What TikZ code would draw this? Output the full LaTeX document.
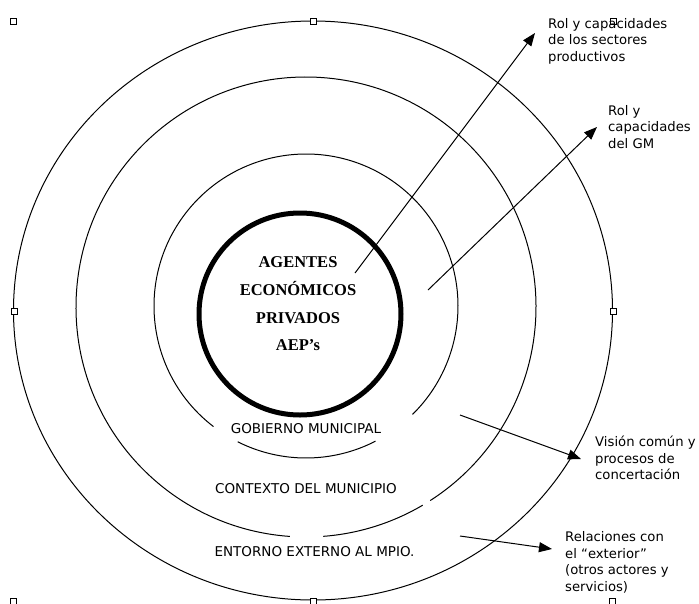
\documentclass[tikz,border=0pt]{standalone}
\usepackage{fontspec}
\setmainfont{Liberation Serif}
\newfontfamily\lblfont{DejaVu Sans}
\usetikzlibrary{arrows.meta}
\begin{document}
\begin{tikzpicture}[x=1pt,y=-1pt,
  ring/.style={line width=1pt},
  handle/.style={draw,fill=white,line width=0.9pt,minimum size=6pt,inner sep=0pt},
  lbl/.style={font=\lblfont\fontsize{13.2}{16.4}\selectfont,align=left,anchor=north west,inner sep=0pt},
  band/.style={font=\lblfont\fontsize{13.5}{16}\selectfont,inner sep=0pt},
  arr/.style={line width=1pt,-{Triangle[length=13pt,width=10pt]}},
  core/.style={font=\bfseries\fontsize{16.5}{27.7}\selectfont,align=center,inner sep=0pt}]
\useasboundingbox (0,0) rectangle (699,603);
% outer ring with selection handles
\draw[ring] (313,310.5) ellipse [x radius=299.5, y radius=289.5];
% ring 2 (context)
\draw[ring] ([shift={(306,307)}]94:230) arc[start angle=94,end angle=417.3,radius=230];
\draw[ring] ([shift={(306,307)}]59.5:230) arc[start angle=59.5,end angle=85.7,radius=230];
% ring 3 (municipal government)
\draw[ring] ([shift={(306,306)}]127.5:152) arc[start angle=127.5,end angle=405.5,radius=152];
\draw[ring] ([shift={(306,306)}]62.8:152) arc[start angle=62.8,end angle=116.7,radius=152];
% core circle
\draw[line width=5pt] (300,314) circle [radius=101];
% handles
\node[handle] (h1) at (13,21) {};
\node[handle] (h2) at (313,21) {};
\node[handle] (h3) at (613,21) {};
\node[handle] (h4) at (14,311) {};
\node[handle] (h5) at (613,311) {};
\node[handle] (h6) at (13,601) {};
\node[handle] (h7) at (313,601) {};
\node[handle] (h8) at (612,601) {};
% texts
\node[core] (aep) at (298,304) {AGENTES\\ECONÓMICOS\\PRIVADOS\\AEP’s};
\node[band] (gob) at (306,429) {GOBIERNO MUNICIPAL};
\node[band] (ctx) at (306,489) {CONTEXTO DEL MUNICIPIO};
\node[band] (ent) at (314.5,552) {ENTORNO EXTERNO AL MPIO.};
\node[lbl] (l1) at (548,18) {Rol y capacidades\\de los sectores\\productivos};
\node[lbl] (l2) at (608,105) {Rol y\\capacidades\\del GM};
\node[lbl] (l3) at (595,436) {Visión común y\\procesos de\\concertación};
\node[lbl] (l4) at (565,531.7) {Relaciones con\\el “exterior”\\(otros actores y\\servicios)};
% arrows
\coordinate (a1s) at (355,273); \coordinate (a1e) at (535,33);
\coordinate (a2s) at (428,290); \coordinate (a2e) at (597,127);
\coordinate (a3s) at (460,415); \coordinate (a3e) at (581,459);
\coordinate (a4s) at (460,536); \coordinate (a4e) at (552,549);
\draw[arr] (a1s) -- (a1e);
\draw[arr] (a2s) -- (a2e);
\draw[arr] (a3s) -- (a3e);
\draw[arr] (a4s) -- (a4e);
\end{tikzpicture}
\end{document}
